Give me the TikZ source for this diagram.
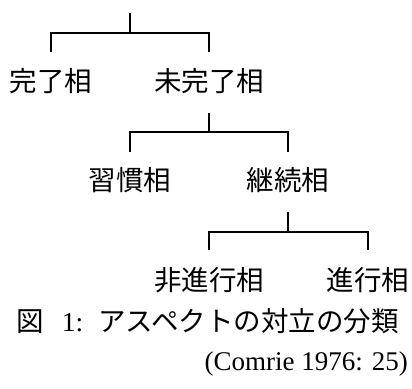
\documentclass[tikz,border=0pt]{standalone}
\usepackage{fontspec}
\setmainfont{Liberation Serif}
\newfontfamily\jgoth{Noto Sans CJK JP}
\begin{document}
\begin{tikzpicture}[x=1pt,y=-1pt,
  tree/.style={line width=2.8pt, line join=miter},
  lab/.style={inner sep=0pt, font=\jgoth\fontsize{27.5}{30}\selectfont},
  txt/.style={inner sep=0pt, anchor=east, font=\fontsize{27.5}{30}\selectfont}]
\useasboundingbox (0,0) rectangle (412,388);
% labels
\node[lab] (a) at (51,81) {完了相};
\node[lab] (b) at (209,81) {未完了相};
\node[lab] (c) at (130,180) {習慣相};
\node[lab] (d) at (288,180) {継続相};
\node[lab] (e) at (209,280) {非進行相};
\node[lab] (f) at (368,280) {進行相};
% levels
\coordinate (r)  at (130,13);
\coordinate (j1) at (130,33);
\coordinate (l1) at (0,52);
\coordinate (s2) at (0,113);
\coordinate (j2) at (0,132);
\coordinate (l2) at (0,152);
\coordinate (s3) at (0,212);
\coordinate (j3) at (0,232);
\coordinate (l3) at (0,250);
% tree
\draw[tree] (r) -- (j1);
\draw[tree] (a |- l1) |- (j1) -| (b |- l1);
\draw[tree] (b |- s2) -- (b |- j2);
\draw[tree] (c |- l2) |- (b |- j2) -| (d |- l2);
\draw[tree] (d |- s3) -- (d |- j3);
\draw[tree] (e |- l3) |- (d |- j3) -| (f |- l3);
% caption
\node[txt] (cap) at (399,321) {{\jgoth 図}\hspace{18pt}1:\hspace{15pt}{\jgoth アスペクトの対立の分類}};
\node[txt, font=\fontsize{27}{30}\selectfont] (src) at (408,364) {(Comrie 1976: 25)};
\end{tikzpicture}
\end{document}
